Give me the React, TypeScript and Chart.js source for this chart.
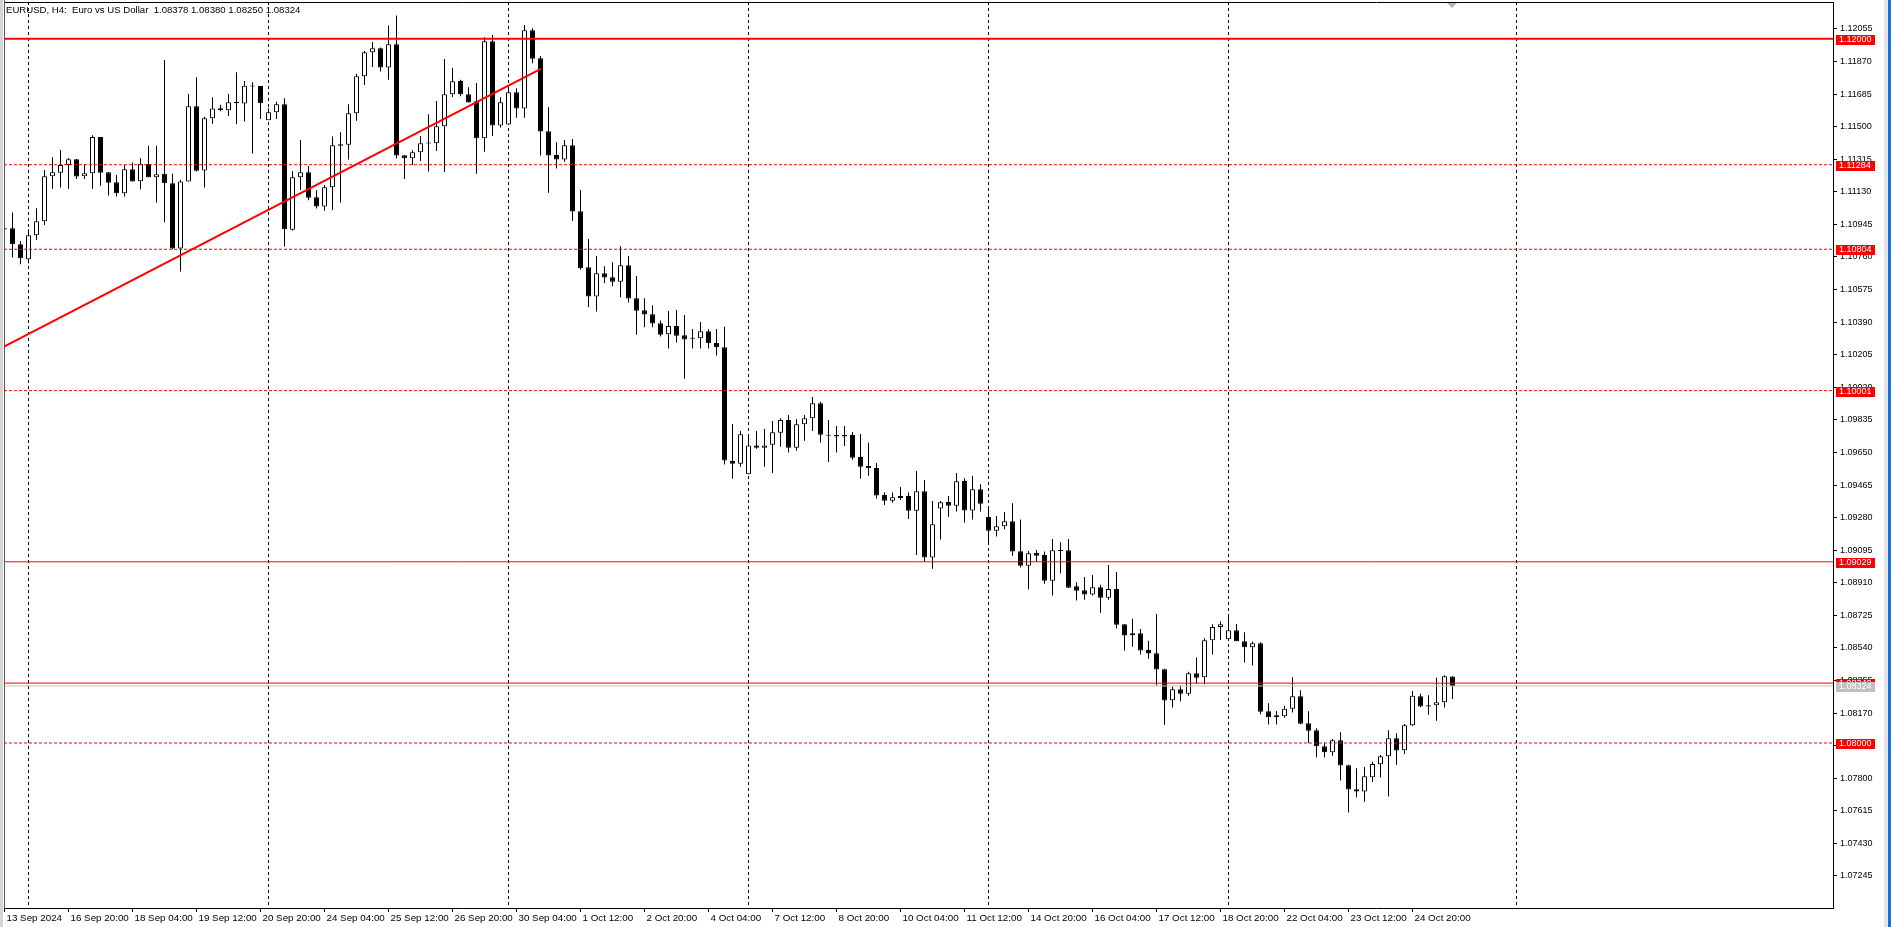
import React, { useEffect, useRef } from "react";
import { Chart, registerables } from "chart.js";

Chart.register(...registerables);

// ---------- DATA (H4 candles, index 0 = 13 Sep 2024 12:00) ----------
const opens = [
  1.10923, 1.10923, 1.10832, 1.10747, 1.10883, 1.10963, 1.11218, 1.11239, 1.11283, 1.11315,
  1.11218, 1.11235, 1.11442, 1.11241, 1.11184, 1.11122, 1.11258, 1.1119, 1.11288, 1.11213,
  1.11232, 1.11179, 1.10808, 1.11188, 1.11616, 1.11251, 1.11548, 1.11605, 1.11593, 1.11641,
  1.11631, 1.11733, 1.11731, 1.11536, 1.11582, 1.11627, 1.10914, 1.11213, 1.11241, 1.11099,
  1.11046, 1.11156, 1.11392, 1.11398, 1.11576, 1.11786, 1.11923, 1.11945, 1.11836, 1.11968,
  1.11338, 1.11321, 1.11355, 1.11404, 1.11406, 1.11502, 1.11684, 1.1176, 1.11684, 1.11644,
  1.11434, 1.11985, 1.11506, 1.11513, 1.11695, 1.11603, 1.12047, 1.11888, 1.11474, 1.11339,
  1.11313, 1.11394, 1.11019, 1.10701, 1.10535, 1.10667, 1.10645, 1.1062, 1.10713, 1.10525,
  1.10457, 1.10435, 1.10384, 1.10321, 1.10368, 1.10315, 1.103, 1.10298, 1.10338, 1.10272,
  1.10247, 1.09601, 1.09586, 1.09526, 1.0969, 1.09677, 1.09694, 1.09762, 1.09834, 1.09677,
  1.0981, 1.09844, 1.09929, 1.09749, 1.09749, 1.09749, 1.09749, 1.09624, 1.09573, 1.09562,
  1.09408, 1.09376, 1.09403, 1.09403, 1.09319, 1.09429, 1.09053, 1.09331, 1.09369, 1.09348,
  1.09488, 1.0932, 1.09441, 1.09284, 1.09206, 1.09231, 1.09259, 1.09089, 1.09007, 1.09079,
  1.09068, 1.08922, 1.09091, 1.09094, 1.0889, 1.08867, 1.08843, 1.08884, 1.08825, 1.08875,
  1.08674, 1.08612, 1.08623, 1.08528, 1.0851, 1.08419, 1.08243, 1.08305, 1.0828, 1.08396,
  1.08373, 1.08584, 1.08659, 1.08589, 1.0864, 1.08578, 1.08544, 1.08566, 1.0818, 1.08146,
  1.08152, 1.08195, 1.08265, 1.08112, 1.08072, 1.07982, 1.07948, 1.08016, 1.07874, 1.07738,
  1.07724, 1.07806, 1.07879, 1.07925, 1.08027, 1.07959, 1.08101, 1.08265, 1.08214, 1.08214,
  1.08231, 1.08378,
];
const highs = [
  1.10925, 1.11012, 1.10851, 1.10917, 1.11037, 1.11254, 1.11326, 1.11368, 1.11322, 1.11315,
  1.11287, 1.11451, 1.11442, 1.11241, 1.11226, 1.11283, 1.11296, 1.11321, 1.11391, 1.11391,
  1.11879, 1.11232, 1.11198, 1.11686, 1.11781, 1.11557, 1.11667, 1.11624, 1.11686, 1.11809,
  1.1176, 1.11752, 1.11731, 1.11605, 1.11641, 1.11661, 1.11247, 1.11425, 1.11277, 1.11139,
  1.11169, 1.11444, 1.11468, 1.11627, 1.118, 1.1193, 1.11981, 1.11949, 1.12074, 1.12131,
  1.11338, 1.11366, 1.11447, 1.1157, 1.11646, 1.11885, 1.11834, 1.11767, 1.11724, 1.11748,
  1.12008, 1.12021, 1.11667, 1.11727, 1.11718, 1.12078, 1.12059, 1.11902, 1.1161, 1.11411,
  1.11424, 1.1143, 1.11141, 1.10862, 1.10766, 1.10707, 1.1073, 1.10821, 1.10766, 1.10652,
  1.10525, 1.10486, 1.10399, 1.10453, 1.10459, 1.10431, 1.10351, 1.10391, 1.10351, 1.10351,
  1.10364, 1.09812, 1.09772, 1.09753, 1.09772, 1.09785, 1.09829, 1.09844, 1.09863, 1.09838,
  1.09863, 1.09965, 1.09938, 1.09834, 1.098, 1.098, 1.09766, 1.09755, 1.09706, 1.0959,
  1.09422, 1.09423, 1.09454, 1.09423, 1.09545, 1.09493, 1.09374, 1.09374, 1.09403, 1.09533,
  1.09503, 1.09517, 1.09469, 1.09344, 1.09289, 1.09312, 1.09361, 1.09269, 1.09091, 1.09096,
  1.09087, 1.09159, 1.0914, 1.09159, 1.08913, 1.08943, 1.08954, 1.08898, 1.09011, 1.08971,
  1.08674, 1.08705, 1.08648, 1.0858, 1.08733, 1.08421, 1.0832, 1.08326, 1.08405, 1.08485,
  1.08595, 1.08674, 1.0869, 1.08714, 1.08676, 1.08629, 1.08576, 1.08572, 1.08226, 1.08182,
  1.08211, 1.08373, 1.083, 1.0818, 1.08084, 1.08002, 1.08023, 1.08061, 1.07876, 1.07857,
  1.07864, 1.07894, 1.07932, 1.08072, 1.08055, 1.08108, 1.08296, 1.08279, 1.08271, 1.0837,
  1.08385, 1.0838,
];
const lows = [
  1.10914, 1.10757, 1.10719, 1.10724, 1.10857, 1.10942, 1.11147, 1.11154, 1.11147, 1.11203,
  1.11203, 1.11147, 1.11165, 1.11109, 1.11103, 1.11103, 1.11188, 1.11143, 1.11211, 1.11069,
  1.10957, 1.10804, 1.10677, 1.11188, 1.11245, 1.11154, 1.11516, 1.11588, 1.11561, 1.11514,
  1.11529, 1.11347, 1.11544, 1.11536, 1.11544, 1.10819, 1.1091, 1.11141, 1.11082, 1.11035,
  1.11023, 1.11027, 1.11069, 1.11313, 1.11533, 1.11737, 1.11839, 1.11813, 1.11767, 1.11319,
  1.11203, 1.11283, 1.11305, 1.11245, 1.11362, 1.11243, 1.11669, 1.11673, 1.11637, 1.11232,
  1.11358, 1.11447, 1.11495, 1.1151, 1.11551, 1.11551, 1.1186, 1.11336, 1.11125, 1.11262,
  1.11301, 1.10966, 1.10688, 1.10474, 1.1045, 1.10611, 1.10594, 1.10531, 1.10501, 1.10319,
  1.10361, 1.10361, 1.10308, 1.1024, 1.10274, 1.10069, 1.1024, 1.1024, 1.1024, 1.102,
  1.09581, 1.09501, 1.09569, 1.09526, 1.09671, 1.09569, 1.09533, 1.09683, 1.09649, 1.0966,
  1.09717, 1.09772, 1.09706, 1.09596, 1.09649, 1.09687, 1.09609, 1.09501, 1.09518, 1.09388,
  1.09352, 1.09365, 1.0938, 1.09272, 1.09068, 1.0903, 1.0899, 1.09155, 1.09285, 1.09314,
  1.09252, 1.09269, 1.09314, 1.09128, 1.09172, 1.09214, 1.09064, 1.08996, 1.08871, 1.0903,
  1.08905, 1.08837, 1.08962, 1.08882, 1.08809, 1.08814, 1.08837, 1.0874, 1.08814, 1.0865,
  1.08525, 1.08547, 1.08502, 1.08479, 1.08326, 1.08104, 1.08201, 1.08235, 1.08269, 1.08337,
  1.08334, 1.08502, 1.08585, 1.0858, 1.08578, 1.08457, 1.0844, 1.08163, 1.08105, 1.08105,
  1.08144, 1.08173, 1.08107, 1.07999, 1.07917, 1.07917, 1.07927, 1.07787, 1.07605, 1.0769,
  1.07667, 1.07779, 1.07804, 1.07696, 1.07877, 1.07938, 1.08097, 1.08203, 1.08161, 1.08127,
  1.08201, 1.0825,
];
const closes = [
  1.10916, 1.10832, 1.10753, 1.10883, 1.10963, 1.11218, 1.11241, 1.11283, 1.11315, 1.11217,
  1.11235, 1.11442, 1.11239, 1.11182, 1.11122, 1.11258, 1.11188, 1.11288, 1.11213, 1.1123,
  1.11179, 1.10808, 1.11188, 1.11616, 1.11249, 1.11548, 1.11603, 1.11593, 1.11639, 1.11633,
  1.11733, 1.11728, 1.11633, 1.11582, 1.11627, 1.10917, 1.11213, 1.11241, 1.11097, 1.11046,
  1.11156, 1.11394, 1.114, 1.11576, 1.11786, 1.11923, 1.11945, 1.11836, 1.11968, 1.11336,
  1.11321, 1.11355, 1.11406, 1.11408, 1.11502, 1.11684, 1.11758, 1.11684, 1.11637, 1.11434,
  1.11985, 1.11506, 1.11638, 1.11695, 1.11603, 1.12047, 1.11886, 1.11472, 1.11336, 1.11313,
  1.11394, 1.11018, 1.10696, 1.10535, 1.10667, 1.10643, 1.1062, 1.10713, 1.10524, 1.10455,
  1.10433, 1.10382, 1.10319, 1.10368, 1.10313, 1.10291, 1.10296, 1.10338, 1.1027, 1.10247,
  1.09604, 1.09586, 1.09753, 1.0969, 1.09677, 1.0969, 1.09764, 1.09834, 1.09677, 1.0981,
  1.09844, 1.09929, 1.09751, 1.09745, 1.0974, 1.0974, 1.0962, 1.09569, 1.0956, 1.09405,
  1.09376, 1.09395, 1.09391, 1.09319, 1.09429, 1.09053, 1.09242, 1.09367, 1.09348, 1.09486,
  1.0932, 1.09441, 1.09359, 1.09206, 1.09231, 1.09259, 1.09087, 1.09007, 1.09077, 1.09064,
  1.08922, 1.09094, 1.09094, 1.08882, 1.08865, 1.08843, 1.08884, 1.08825, 1.08875, 1.08672,
  1.0861, 1.08623, 1.08525, 1.08508, 1.08417, 1.08241, 1.08305, 1.0828, 1.08396, 1.08371,
  1.08584, 1.08659, 1.08674, 1.0864, 1.08578, 1.08544, 1.08566, 1.08178, 1.08146, 1.08158,
  1.08195, 1.08265, 1.0811, 1.0807, 1.07982, 1.07948, 1.08016, 1.07872, 1.07736, 1.07724,
  1.07811, 1.07881, 1.07925, 1.08027, 1.07957, 1.08101, 1.08269, 1.08207, 1.08207, 1.08231,
  1.08379, 1.08324,
];

const timeLabels = [
  "13 Sep 2024", "16 Sep 20:00", "18 Sep 04:00", "19 Sep 12:00", "20 Sep 20:00",
  "24 Sep 04:00", "25 Sep 12:00", "26 Sep 20:00", "30 Sep 04:00", "1 Oct 12:00",
  "2 Oct 20:00", "4 Oct 04:00", "7 Oct 12:00", "8 Oct 20:00", "10 Oct 04:00",
  "11 Oct 12:00", "14 Oct 20:00", "16 Oct 04:00", "17 Oct 12:00", "18 Oct 20:00",
  "22 Oct 04:00", "23 Oct 12:00", "24 Oct 20:00",
];
const timeLabelBars = [
  0, 8, 16, 24, 32, 40, 48, 56, 64, 72, 80, 88, 96, 104, 112, 120, 128, 136, 144, 152,
  160, 168, 176,
];
const weekGridBars = [3, 33, 63, 93, 123, 153, 189];

const priceTicks = [
  1.12055, 1.1187, 1.11685, 1.115, 1.11315, 1.1113, 1.10945, 1.1076, 1.10575, 1.1039,
  1.10205, 1.1002, 1.09835, 1.0965, 1.09465, 1.0928, 1.09095, 1.0891, 1.08725, 1.0854,
  1.08355, 1.0817, 1.07985, 1.078, 1.07615, 1.0743, 1.07245,
];

const levelPrices = [1.12, 1.11284, 1.10804, 1.10001, 1.09029, 1.0834, 1.08];
const currentPrice = 1.08324;
const trendBars = [-0.125, 67.1];
const trendPrices = [1.1025, 1.1183];

const titleText = "EURUSD, H4:  Euro vs US Dollar  1.08378 1.08380 1.08250 1.08324";

// ---------- STYLES / LAYOUT ----------
const levelWidths = [2, 1, 1, 1, 1, 1, 1];
const levelDashes = [[], [3, 2], [3, 2], [3, 2], [], [], [3, 2]];
const RED = "#ff0000";
const FONT = "'Liberation Sans', Arial, sans-serif";
const X_MIN = -0.0625;
const X_MAX = 228.5625;
const Y_MIN = 1.07063;
const Y_MAX = 1.12208;

const decorPlugin = {
  id: "decor",
  beforeDraw(chart: any) {
    const { ctx, width, height } = chart;
    ctx.save();
    ctx.fillStyle = "#ffffff";
    ctx.fillRect(0, 0, width, height);
    ctx.restore();
  },
  afterDraw(chart: any) {
    const { ctx, chartArea: a, scales, width, height } = chart;
    const ys = scales.y;
    ctx.save();
    // frame
    ctx.lineWidth = 1;
    ctx.strokeStyle = "#000000";
    ctx.beginPath();
    ctx.moveTo(a.left, a.top + 0.5);
    ctx.lineTo(a.right + 1, a.top + 0.5);
    ctx.stroke();
    ctx.fillStyle = "#d4d4d4";
    ctx.fillRect(0, 0, 3, height);
    ctx.strokeStyle = "#555555";
    ctx.beginPath();
    ctx.moveTo(a.left + 0.5, 0);
    ctx.lineTo(a.left + 0.5, a.bottom);
    ctx.stroke();
    // right window strip
    ctx.fillStyle = "#e4e4e4";
    ctx.fillRect(width - 7, 0, 4, height);
    ctx.fillStyle = "#1f6fc5";
    ctx.fillRect(width - 3, 0, 3, height);

    // shift marker
    ctx.fillStyle = "#b4b4b4";
    ctx.beginPath();
    ctx.moveTo(1447, a.top + 1);
    ctx.lineTo(1457, a.top + 1);
    ctx.lineTo(1452, a.top + 6);
    ctx.closePath();
    ctx.fill();

    // title
    ctx.fillStyle = "#000000";
    ctx.font = `9.6px ${FONT}`;
    ctx.textBaseline = "middle";
    ctx.textAlign = "left";
    ctx.fillText(titleText, 6, 10);

    // price labels of the levels
    const boxX = a.right + 3;
    const drawBox = (p: number, fill: string) => {
      const y = Math.round(ys.getPixelForValue(p));
      ctx.fillStyle = fill;
      ctx.fillRect(boxX, y - 4, 39, 10);
      ctx.fillStyle = "#ffffff";
      ctx.font = `9px ${FONT}`;
      ctx.textBaseline = "middle";
      ctx.fillText(p.toFixed(5), boxX + 3, y + 1);
    };
    levelPrices.forEach((p) => drawBox(p, RED));
    drawBox(currentPrice, "#c0c0c0");
    ctx.restore();
  },
};

export default function App() {
  const canvasRef = useRef<HTMLCanvasElement | null>(null);

  useEffect(() => {
    const canvas = canvasRef.current;
    if (!canvas) return;

    const levelSets = levelPrices.map((p, i) => ({
      type: "line" as const,
      data: [
        { x: X_MIN, y: p },
        { x: X_MAX, y: p },
      ],
      borderColor: RED,
      borderWidth: levelWidths[i],
      borderDash: levelDashes[i],
      pointRadius: 0,
      fill: false,
      tension: 0,
    }));

    const currentSet = {
      type: "line" as const,
      data: [
        { x: X_MIN, y: currentPrice },
        { x: X_MAX, y: currentPrice },
      ],
      borderColor: "#c0c0c0",
      borderWidth: 1,
      pointRadius: 0,
      fill: false,
    };

    const trendSet = {
      type: "line" as const,
      data: trendBars.map((b, i) => ({ x: b, y: trendPrices[i] })),
      borderColor: RED,
      borderWidth: 2,
      pointRadius: 0,
      fill: false,
    };

    const bodySet = {
      type: "bar" as const,
      data: opens.map((o, i) => ({ x: i, y: [o, closes[i]] })),
      backgroundColor: opens.map((o, i) => (closes[i] >= o ? "#ffffff" : "#000000")),
      borderColor: "#000000",
      borderWidth: 1,
      borderSkipped: false,
      barThickness: 5,
      minBarLength: 1,
      grouped: false,
      inflateAmount: 0,
    };

    const wickSet = {
      type: "bar" as const,
      data: lows.map((l, i) => ({ x: i, y: [l, highs[i]] })),
      backgroundColor: "#000000",
      borderWidth: 0,
      barThickness: 1,
      grouped: false,
      inflateAmount: 0,
    };

    const zeroPad = (s: any) => {
      s.paddingTop = 0;
      s.paddingBottom = 0;
      s.paddingLeft = 0;
      s.paddingRight = 0;
    };

    const chart = new Chart(canvas, {
      type: "bar",
      data: {
        datasets: [...levelSets, currentSet, trendSet, bodySet, wickSet] as any,
      },
      options: {
        responsive: false,
        animation: false,
        devicePixelRatio: 1,
        layout: { padding: { left: 4, top: 2, right: 0, bottom: 0 } },
        plugins: {
          legend: { display: false },
          tooltip: { enabled: false },
          title: { display: false },
        },
        scales: {
          x: {
            type: "linear",
            position: "bottom",
            min: X_MIN,
            max: X_MAX,
            offset: false,
            grid: {
              display: true,
              offset: false,
              drawOnChartArea: false,
              drawTicks: true,
              tickLength: 4,
              color: "#000000",
              lineWidth: 1,
            },
            border: { display: true, color: "#000000", width: 1 },
            ticks: {
              autoSkip: false,
              maxRotation: 0,
              minRotation: 0,
              align: "start",
              padding: 0,
              labelOffset: 2,
              color: "#000000",
              font: { family: FONT, size: 9.8 },
              callback: (_v: any, i: number) => timeLabels[i] ?? "",
            },
            afterBuildTicks: (s: any) => {
              s.ticks = timeLabelBars.map((v) => ({ value: v }));
            },
            afterFit: (s: any) => {
              s.height = 19;
              zeroPad(s);
            },
          },
          xg: {
            type: "linear",
            position: "bottom",
            min: X_MIN,
            max: X_MAX,
            offset: false,
            grid: {
              display: true,
              offset: false,
              drawOnChartArea: true,
              drawTicks: false,
              color: "#000000",
              lineWidth: 1,
              borderDash: [3, 3],
            } as any,
            border: { display: false, dash: [3, 3] },
            ticks: { display: false },
            afterBuildTicks: (s: any) => {
              s.ticks = weekGridBars.map((v) => ({ value: v }));
            },
            afterFit: (s: any) => {
              s.height = 0;
              zeroPad(s);
            },
          },
          y: {
            type: "linear",
            position: "right",
            min: Y_MIN,
            max: Y_MAX,
            beginAtZero: false,
            grid: {
              drawOnChartArea: false,
              drawTicks: true,
              tickLength: 4,
              color: "#000000",
            },
            border: { display: true, color: "#000000", width: 1 },
            ticks: {
              autoSkip: false,
              color: "#000000",
              padding: 3,
              font: { family: FONT, size: 9 },
              callback: (v: any) => Number(v).toFixed(5),
            },
            afterBuildTicks: (s: any) => {
              s.ticks = priceTicks.map((v) => ({ value: v }));
            },
            afterFit: (s: any) => {
              s.width = 58;
              zeroPad(s);
            },
          },
        },
      } as any,
      plugins: [decorPlugin],
    });

    return () => chart.destroy();
  }, []);

  return (
    <div style={{ position: "fixed", left: 0, top: 0, width: 1891, height: 927, background: "#fff" }}>
      <canvas ref={canvasRef} width={1891} height={927} style={{ display: "block", width: 1891, height: 927 }} />
    </div>
  );
}
